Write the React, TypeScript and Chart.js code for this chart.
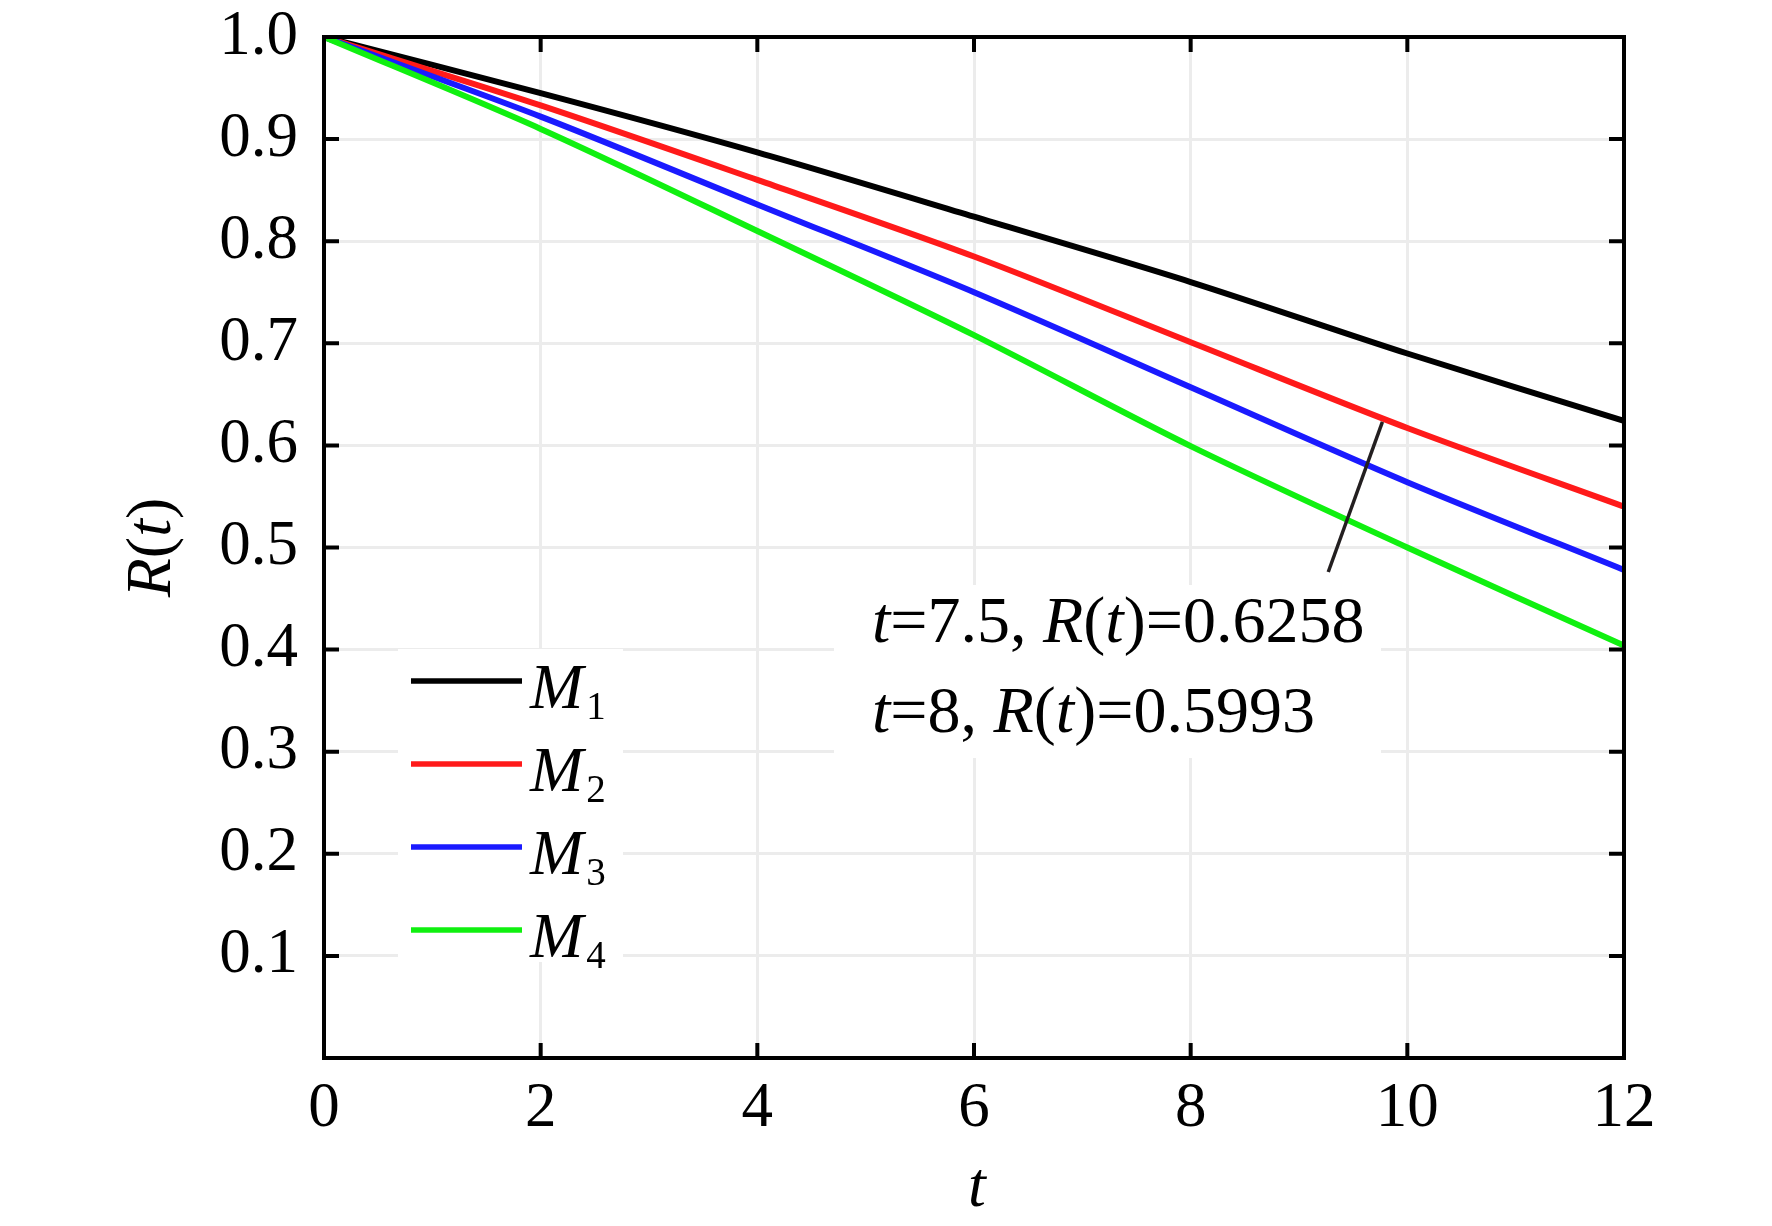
import React, { useEffect, useRef } from "react";
import { Chart, registerables } from "chart.js";

Chart.register(...registerables);

// ---------- data ----------
const tValues = [0, 2, 4, 6, 8, 10, 12];
const m1Values = [1.0, 0.945, 0.887, 0.824, 0.76, 0.69, 0.624];
const m2Values = [1.0, 0.933, 0.86, 0.785, 0.701, 0.617, 0.54];
const m3Values = [1.0, 0.922, 0.836, 0.75, 0.657, 0.564, 0.478];
const m4Values = [1.0, 0.91, 0.81, 0.708, 0.5993, 0.5, 0.404];
const seriesValues = [m1Values, m2Values, m3Values, m4Values];
const seriesBase = ["M", "M", "M", "M"];
const seriesSub = ["1", "2", "3", "4"];
const seriesColors = ["#000000", "#ff1a1a", "#1a1aff", "#10f010"];

const leaderT = [9.77, 9.27];
const leaderR = [0.623, 0.476];

const noteLine1 = [
  { s: "t", i: true },
  { s: "=7.5, ", i: false },
  { s: "R", i: true },
  { s: "(", i: false },
  { s: "t", i: true },
  { s: ")=0.6258", i: false },
];
const noteLine2 = [
  { s: "t", i: true },
  { s: "=8, ", i: false },
  { s: "R", i: true },
  { s: "(", i: false },
  { s: "t", i: true },
  { s: ")=0.5993", i: false },
];
const xTitle = [{ s: "t", i: true }];
const yTitle = [
  { s: "R", i: true },
  { s: "(", i: false },
  { s: "t", i: true },
  { s: ")", i: false },
];

const xMin = 0;
const xMax = 12;
const xStep = 2;
const yMin = 0;
const yMax = 1;
const yStep = 0.1;

// ---------- helpers ----------
const FONT = '"Liberation Serif", "Times New Roman", serif';
const font = (size: number, italic: boolean) =>
  `${italic ? "italic " : ""}${size}px ${FONT}`;

type Seg = { s: string; i: boolean };

function richWidth(ctx: CanvasRenderingContext2D, segs: Seg[], size: number) {
  let w = 0;
  for (const seg of segs) {
    ctx.font = font(size, seg.i);
    w += ctx.measureText(seg.s).width;
  }
  return w;
}

function drawRich(
  ctx: CanvasRenderingContext2D,
  segs: Seg[],
  x: number,
  y: number,
  size: number
) {
  let cx = x;
  for (const seg of segs) {
    ctx.font = font(size, seg.i);
    ctx.fillText(seg.s, cx, y);
    cx += ctx.measureText(seg.s).width;
  }
}

const decorPlugin = {
  id: "decor",
  beforeDatasetsDraw(chart: any) {
    const ctx: CanvasRenderingContext2D = chart.ctx;
    const ca = chart.chartArea;
    ctx.save();
    ctx.textBaseline = "alphabetic";
    ctx.textAlign = "left";

    // legend box
    ctx.fillStyle = "#ffffff";
    ctx.fillRect(ca.left + 74, ca.top + 612, 225, 313);
    for (let i = 0; i < seriesColors.length; i++) {
      const ry = ca.top + 644 + i * 83;
      ctx.strokeStyle = seriesColors[i];
      ctx.lineWidth = 5.5;
      ctx.beginPath();
      ctx.moveTo(ca.left + 87, ry);
      ctx.lineTo(ca.left + 198, ry);
      ctx.stroke();
      ctx.fillStyle = "#000";
      ctx.font = font(64, true);
      const tx = ca.left + 206;
      ctx.fillText(seriesBase[i], tx, ry + 27);
      const mw = ctx.measureText(seriesBase[i]).width;
      ctx.font = font(39, false);
      ctx.fillText(seriesSub[i], tx + mw + 3, ry + 38);
    }

    // annotation box
    ctx.fillStyle = "#ffffff";
    ctx.fillRect(ca.left + 510, ca.top + 548, 547, 173);
    ctx.fillStyle = "#000";
    drawRich(ctx, noteLine1, ca.left + 548, ca.top + 605, 66);
    drawRich(ctx, noteLine2, ca.left + 548, ca.top + 695, 66);
    ctx.restore();
  },
  afterDraw(chart: any) {
    const ctx: CanvasRenderingContext2D = chart.ctx;
    const ca = chart.chartArea;
    const xs = chart.scales.x;
    const ys = chart.scales.y;
    ctx.save();
    ctx.strokeStyle = "#000";
    ctx.lineWidth = 4;
    // inner tick marks
    const tl = 15;
    ctx.beginPath();
    for (let v = xMin + xStep; v < xMax; v += xStep) {
      const px = xs.getPixelForValue(v);
      ctx.moveTo(px, ca.bottom);
      ctx.lineTo(px, ca.bottom - tl);
      ctx.moveTo(px, ca.top);
      ctx.lineTo(px, ca.top + tl);
    }
    for (let k = 1; k < Math.round((yMax - yMin) / yStep); k++) {
      const py = ys.getPixelForValue(yMin + k * yStep);
      ctx.moveTo(ca.left, py);
      ctx.lineTo(ca.left + tl, py);
      ctx.moveTo(ca.right, py);
      ctx.lineTo(ca.right - tl, py);
    }
    ctx.stroke();
    // frame
    ctx.strokeRect(ca.left, ca.top, ca.right - ca.left, ca.bottom - ca.top);

    // axis titles
    ctx.fillStyle = "#000";
    ctx.textBaseline = "alphabetic";
    ctx.textAlign = "left";
    const xw = richWidth(ctx, xTitle, 64);
    drawRich(ctx, xTitle, (ca.left + ca.right) / 2 + 3 - xw / 2, ca.bottom + 148, 64);
    const yw = richWidth(ctx, yTitle, 64);
    ctx.translate(170, (ca.top + ca.bottom) / 2);
    ctx.rotate(-Math.PI / 2);
    drawRich(ctx, yTitle, -yw / 2, 0, 64);
    ctx.restore();
  },
};

export default function App() {
  const canvasRef = useRef<HTMLCanvasElement | null>(null);

  useEffect(() => {
    document.body.style.margin = "0";
    document.body.style.overflow = "hidden";
    const canvas = canvasRef.current;
    if (!canvas) return;

    const datasets: any[] = seriesValues.map((vals, i) => ({
      label: seriesBase[i] + seriesSub[i],
      data: tValues.map((t, k) => ({ x: t, y: vals[k] })),
      borderColor: seriesColors[i],
      backgroundColor: seriesColors[i],
      borderWidth: 6,
      pointRadius: 0,
      tension: 0.3,
      fill: false,
      order: 4 - i,
    }));
    datasets.push({
      label: "leader",
      data: leaderT.map((t, k) => ({ x: t, y: leaderR[k] })),
      borderColor: "#231f20",
      borderWidth: 3.5,
      pointRadius: 0,
      fill: false,
      order: 0,
    });

    const chart = new Chart(canvas, {
      type: "line",
      data: { datasets },
      plugins: [decorPlugin],
      options: {
        animation: false,
        responsive: false,
        devicePixelRatio: 1,
        layout: { padding: { left: 0, right: 148, top: 37, bottom: 0 } },
        plugins: {
          legend: { display: false },
          tooltip: { enabled: false },
          title: { display: false },
        },
        scales: {
          x: {
            type: "linear",
            min: xMin,
            max: xMax,
            afterFit: (s: any) => {
              s.height = 168;
              s.paddingLeft = 0;
              s.paddingRight = 0;
            },
            border: { display: false },
            grid: { color: "#ececec", lineWidth: 3, drawTicks: false },
            ticks: {
              stepSize: xStep,
              padding: 14,
              color: "#000",
              font: { family: FONT, size: 63 },
              maxRotation: 0,
              autoSkip: false,
              callback: (v: any) => String(v),
            },
          },
          y: {
            type: "linear",
            min: yMin,
            max: yMax,
            afterFit: (s: any) => {
              s.width = 324;
              s.paddingTop = 0;
              s.paddingBottom = 0;
            },
            border: { display: false },
            grid: { color: "#ececec", lineWidth: 3, drawTicks: false },
            ticks: {
              stepSize: yStep,
              padding: 26,
              color: "#000",
              font: { family: FONT, size: 63 },
              autoSkip: false,
              callback: (v: any) => (Math.abs(v) < 1e-9 ? "" : Number(v).toFixed(1)),
            },
          },
        },
      } as any,
    });

    return () => chart.destroy();
  }, []);

  return (
    <div style={{ width: 1772, height: 1226, background: "#fff" }}>
      <canvas
        ref={canvasRef}
        width={1772}
        height={1226}
        style={{ width: 1772, height: 1226, display: "block" }}
      />
    </div>
  );
}
